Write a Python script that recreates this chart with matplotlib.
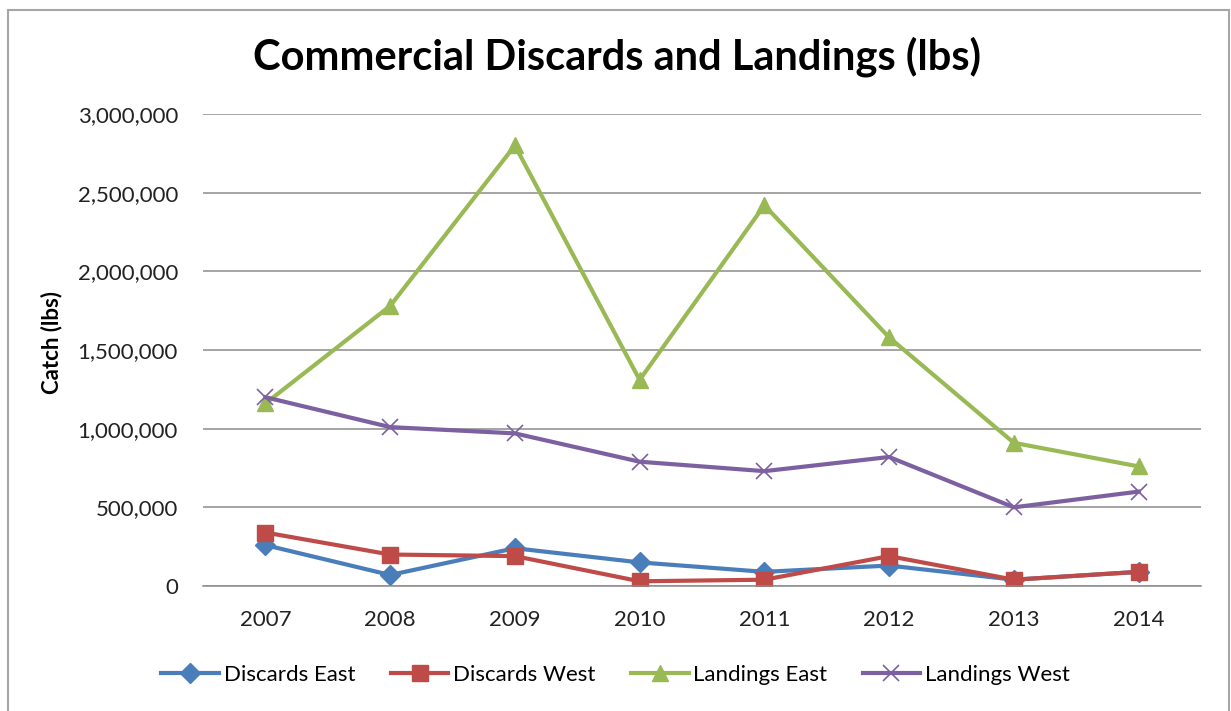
import matplotlib
matplotlib.use("Agg")
import matplotlib.pyplot as plt
from matplotlib.patches import Rectangle
from matplotlib.ticker import FuncFormatter

plt.rcParams['font.family'] = ['Lato', 'DejaVu Sans']

years = ['2007', '2008', '2009', '2010', '2011', '2012', '2013', '2014']
discards_east = [260000, 70000, 240000, 150000, 90000, 130000, 40000, 90000]
discards_west = [340000, 200000, 190000, 30000, 40000, 190000, 40000, 90000]
landings_east = [1160000, 1780000, 2800000, 1310000, 2420000, 1580000, 910000, 760000]
landings_west = [1200000, 1010000, 970000, 790000, 730000, 820000, 500000, 600000]

fig = plt.figure(figsize=(12.31, 7.11), dpi=100)
ax = fig.add_axes([203 / 1231, 125 / 711, 998 / 1231, 472 / 711])

x = range(len(years))
ax.plot(x, discards_east, color='#4A7EBB', lw=3, marker='D', ms=10, label='Discards East')
ax.plot(x, discards_west, color='#BE4B48', lw=3, marker='s', ms=12, label='Discards West')
ax.plot(x, landings_east, color='#98B954', lw=3, marker='^', ms=12, label='Landings East')
ax.plot(x, landings_west, color='#7D60A0', lw=3, marker='x', ms=12, mew=1.2, label='Landings West')

ax.set_xlim(-0.5, len(years) - 0.5)
ax.set_ylim(0, 3000000)
ax.set_yticks(range(0, 3000001, 500000))
ax.yaxis.set_major_formatter(FuncFormatter(lambda v, p: f'{int(v):,}'))
ax.set_xticks(list(x))
ax.set_xticklabels(years)
ax.tick_params(axis='both', length=0, labelsize=16, colors='#222222')
ax.tick_params(axis='y', pad=18)
ax.tick_params(axis='x', pad=17)
ax.grid(axis='y', color='#8c8c8c', lw=1.1)
ax.set_axisbelow(True)
for s in ['top', 'right', 'left']:
    ax.spines[s].set_visible(False)
ax.spines['bottom'].set_color('#8c8c8c')
ax.spines['bottom'].set_linewidth(1.1)

fig.text(52 / 1231, 1 - 343 / 711, 'Catch (lbs)', rotation=90, ha='center', va='center',
         fontsize=16, fontweight='bold')
fig.text(617 / 1231, 1 - 57 / 711, 'Commercial Discards and Landings (lbs)', ha='center',
         va='center', fontsize=30, fontweight='bold')

fig.legend(loc='center', bbox_to_anchor=(0.5, 36 / 711), ncol=4, frameon=False,
           fontsize=16, handlelength=2.6, columnspacing=1.6, handletextpad=0.2)

fig.patches.append(Rectangle((8 / 1231, -0.02), 1221 / 1231, 0.013 + 706 / 711,
                             transform=fig.transFigure, fill=False,
                             edgecolor='#a6a6a6', lw=1.5))

fig.savefig('out.png', dpi=100, facecolor='white')
